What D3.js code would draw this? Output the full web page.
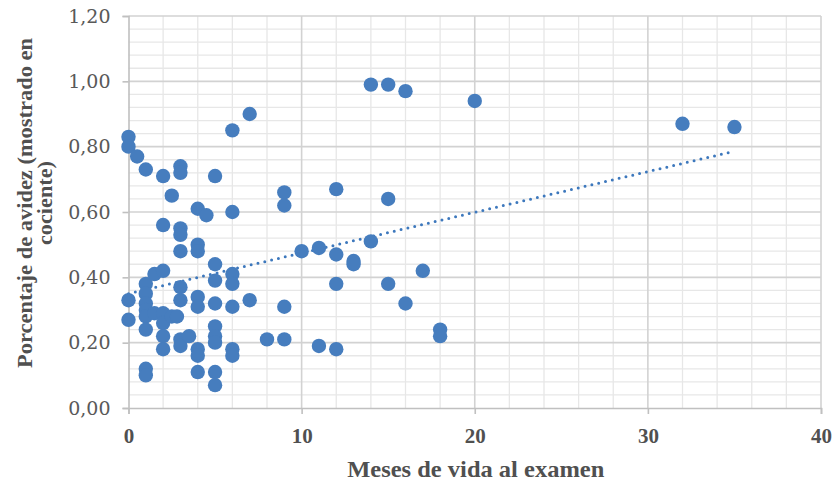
<!DOCTYPE html>
<html>
<head>
<meta charset="utf-8">
<script src="https://cdn.jsdelivr.net/npm/d3@7"></script>
<style>
  html, body { margin: 0; padding: 0; background: #ffffff; }
  svg { display: block; }
</style>
</head>
<body>
<svg id="chart" width="837" height="486"></svg>
<script>
// ---- data ----
const months = [
  0, 0, 0, 0,
  0.5,
  1, 1, 1, 1, 1, 1, 1, 1, 1,
  1.5, 1.5,
  2, 2, 2, 2, 2, 2, 2,
  2.5, 2.5,
  2.8,
  3, 3, 3, 3, 3, 3, 3, 3, 3,
  3.5,
  4, 4, 4, 4, 4, 4, 4, 4,
  4.5,
  5, 5, 5, 5, 5, 5, 5, 5, 5,
  6, 6, 6, 6, 6, 6, 6,
  7, 7,
  8,
  9, 9, 9, 9,
  10,
  11, 11,
  12, 12, 12, 12,
  13, 13,
  14, 14,
  15, 15, 15,
  16, 16,
  17,
  18, 18,
  20,
  32,
  35
];
const avidity = [
  0.83, 0.80, 0.33, 0.27,
  0.77,
  0.73, 0.38, 0.35, 0.32, 0.30, 0.28, 0.24, 0.12, 0.10,
  0.41, 0.29,
  0.71, 0.56, 0.42, 0.29, 0.26, 0.22, 0.18,
  0.65, 0.28,
  0.28,
  0.74, 0.72, 0.55, 0.53, 0.48, 0.37, 0.33, 0.21, 0.19,
  0.22,
  0.61, 0.50, 0.48, 0.34, 0.31, 0.18, 0.16, 0.11,
  0.59,
  0.71, 0.44, 0.39, 0.32, 0.25, 0.22, 0.20, 0.11, 0.07,
  0.85, 0.60, 0.41, 0.38, 0.31, 0.18, 0.16,
  0.90, 0.33,
  0.21,
  0.66, 0.62, 0.31, 0.21,
  0.48,
  0.49, 0.19,
  0.67, 0.47, 0.38, 0.18,
  0.45, 0.44,
  0.99, 0.51,
  0.99, 0.64, 0.38,
  0.97, 0.32,
  0.42,
  0.24, 0.22,
  0.94,
  0.87,
  0.86
];
const xTickValues = [0, 10, 20, 30, 40];
const yTickValues = [0, 0.2, 0.4, 0.6, 0.8, 1.0, 1.2];
const xTitle = "Meses de vida al examen";
const yTitleLines = ["Porcentaje de avidez (mostrado en", "cociente)"];

(function () {
// ---- layout ----
const pL = 128.5, pR = 821, pT = 16, pB = 408;
const svg = d3.select("#chart");

const x = d3.scaleLinear().domain([0, 40]).range([pL, pR]);
const y = d3.scaleLinear().domain([0, 1.2]).range([pB, pT]);

const points = months.map((m, i) => ({ m, a: avidity[i] }));

// ---- gridlines ----
const minorX = d3.range(0, 40.001, 2).filter(v => v % 10 !== 0);
const minorY = d3.range(0, 1.2001, 0.04).filter(v => Math.abs(v / 0.2 - Math.round(v / 0.2)) > 1e-6);

const grid = svg.append("g");
grid.selectAll("line.minx").data(minorX).join("line")
  .attr("x1", d => x(d)).attr("x2", d => x(d))
  .attr("y1", pT).attr("y2", pB)
  .attr("stroke", "#e7e7e7").attr("stroke-width", 1.3);
grid.selectAll("line.miny").data(minorY).join("line")
  .attr("x1", pL).attr("x2", pR)
  .attr("y1", d => y(d)).attr("y2", d => y(d))
  .attr("stroke", "#e7e7e7").attr("stroke-width", 1.3);
grid.selectAll("line.majx").data(xTickValues.filter(v => v !== 0)).join("line")
  .attr("x1", d => x(d)).attr("x2", d => x(d))
  .attr("y1", pT).attr("y2", pB)
  .attr("stroke", "#d2d2d2").attr("stroke-width", 1.6);
grid.selectAll("line.majy").data(yTickValues.filter(v => v !== 0)).join("line")
  .attr("x1", pL).attr("x2", pR)
  .attr("y1", d => y(d)).attr("y2", d => y(d))
  .attr("stroke", "#d2d2d2").attr("stroke-width", 1.6);

// ---- axes ----
const axisColor = "#c0c0c0";
const yAxis = svg.append("g").attr("transform", `translate(${pL},0)`)
  .call(d3.axisLeft(y).tickValues(yTickValues).tickSize(6).tickPadding(12)
    .tickFormat(d => d3.format(".2f")(d).replace(".", ",")));
yAxis.select(".domain").attr("stroke", axisColor).attr("stroke-width", 1.6);
yAxis.selectAll(".tick line").attr("stroke", axisColor).attr("stroke-width", 1.6);
yAxis.selectAll(".tick text")
  .attr("font-family", "'DejaVu Serif', serif")
  .attr("font-size", 19).attr("fill", "#595959");

const xAxis = svg.append("g").attr("transform", `translate(0,${pB})`)
  .call(d3.axisBottom(x).tickValues(xTickValues).tickSize(6).tickPadding(14)
    .tickFormat(d3.format("d")));
xAxis.select(".domain").attr("stroke", axisColor).attr("stroke-width", 1.6);
xAxis.selectAll(".tick line").attr("stroke", axisColor).attr("stroke-width", 1.6);
xAxis.selectAll(".tick text")
  .attr("font-family", "'Liberation Serif', serif")
  .attr("font-weight", "bold")
  .attr("font-size", 21).attr("fill", "#505050");

// ---- linear trend (least squares from the data) ----
const mx = d3.mean(points, p => p.m), my = d3.mean(points, p => p.a);
const sxy = d3.sum(points, p => (p.m - mx) * (p.a - my));
const sxx = d3.sum(points, p => (p.m - mx) * (p.m - mx));
const slope = sxy / sxx, intercept = my - slope * mx;
const xr = d3.extent(months);
const trend = xr.map(v => ({ m: v, a: intercept + slope * v }));
svg.append("path")
  .datum(trend)
  .attr("d", d3.line().x(d => x(d.m)).y(d => y(d.a)))
  .attr("fill", "none")
  .attr("stroke", "#3d78bd")
  .attr("stroke-width", 3)
  .attr("stroke-linecap", "round")
  .attr("stroke-dasharray", "0 7");

// ---- points ----
svg.append("g").selectAll("circle").data(points).join("circle")
  .attr("cx", d => x(d.m)).attr("cy", d => y(d.a))
  .attr("r", 7.2)
  .attr("fill", "#467dbe");

// ---- titles ----
svg.append("text")
  .attr("x", (pL + pR) / 2 + 1).attr("y", 477)
  .attr("text-anchor", "middle")
  .attr("font-family", "'Liberation Serif', serif")
  .attr("font-weight", "bold").attr("font-size", 23)
  .attr("fill", "#505050")
  .attr("textLength", 257).attr("lengthAdjust", "spacingAndGlyphs")
  .text(xTitle);

const yt = svg.append("text")
  .attr("transform", `translate(32,203) rotate(-90)`)
  .attr("text-anchor", "middle")
  .attr("font-family", "'Liberation Serif', serif")
  .attr("font-weight", "bold").attr("font-size", 21)
  .attr("fill", "#505050");
yt.append("tspan").attr("x", 0).attr("y", 0)
  .attr("textLength", 330).attr("lengthAdjust", "spacingAndGlyphs")
  .text(yTitleLines[0]);
yt.append("tspan").attr("x", 0).attr("y", 20)
  .attr("textLength", 84).attr("lengthAdjust", "spacingAndGlyphs")
  .text(yTitleLines[1]);
})();
</script>
</body>
</html>
